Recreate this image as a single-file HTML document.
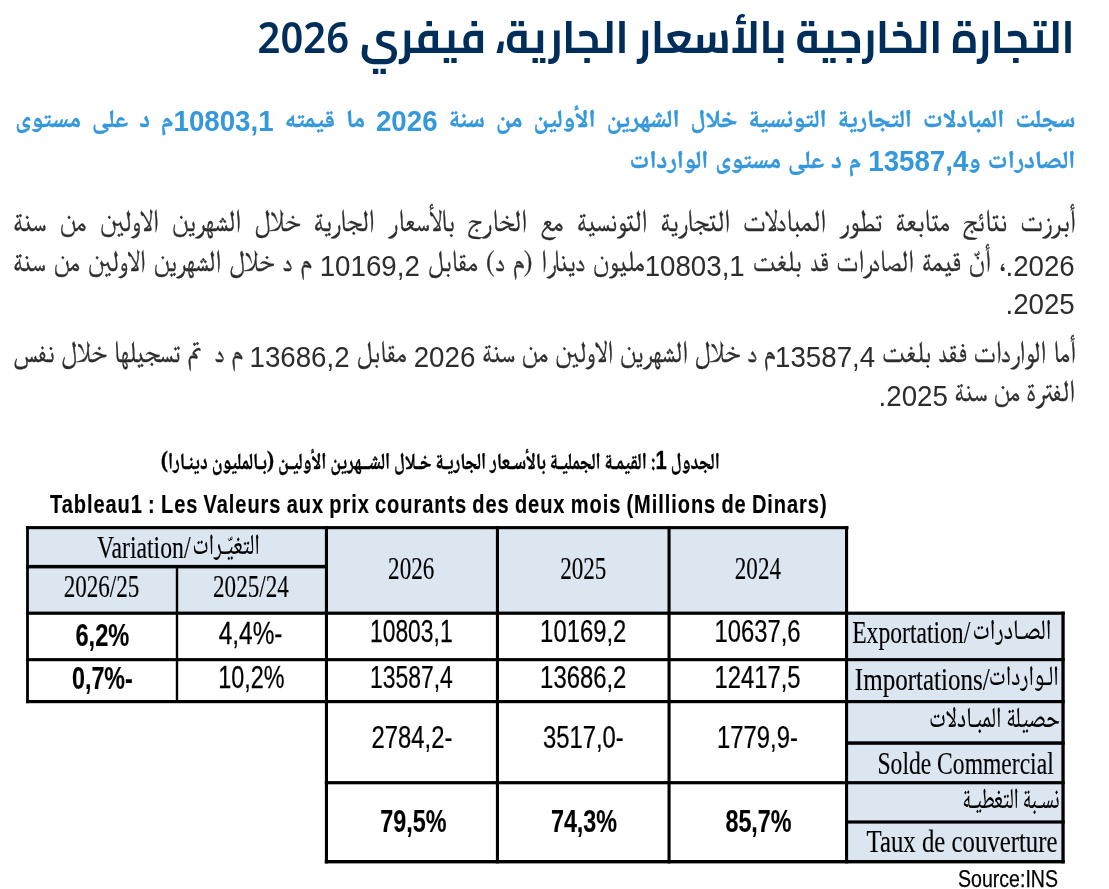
<!DOCTYPE html>
<html lang="ar" dir="ltr">
<head>
<meta charset="utf-8">
<title>التجارة الخارجية بالأسعار الجارية، فيفري 2026</title>
<style>
html,body{margin:0;padding:0;background:#fff}
body{width:1109px;height:889px;overflow:hidden;position:relative;font-family:"Liberation Sans","DejaVu Sans",sans-serif}
.ln{position:absolute;margin:0;white-space:nowrap;direction:rtl;unicode-bidi:isolate;height:60px;line-height:60px}
.j{text-align:justify;text-align-last:justify;white-space:normal;overflow:hidden}
.r{text-align:right}
h1.ln{font-family:"Cairo","DejaVu Sans",sans-serif;font-weight:700;font-size:45px;color:#002e5b;right:34.5px;top:6.5px;transform:scaleX(0.9246);transform-origin:100% 50%}
h1 .n{margin-right:2.2px;font-family:"Noto Sans","Open Sans","Liberation Sans","DejaVu Sans",sans-serif;font-size:43.2px;font-weight:600}
p.lead{-webkit-text-stroke:0.4px #3498db;font-family:"Noto Naskh Arabic","FreeSerif","DejaVu Sans",sans-serif;font-weight:700;font-size:24.8px;color:#3498db;left:15.2px;width:1060.2px;word-spacing:0px}
p.lead{transform:scaleY(1.0);transform-origin:0 38px}
p.lead .n{display:inline-block;line-height:1;transform:scaleY(1.055);transform-origin:50% 84.65%;position:relative;top:3.5px;-webkit-text-stroke:0;font-family:"Liberation Sans","DejaVu Sans",sans-serif;font-size:27.7px}
.body{-webkit-text-stroke:0.3px #2d2d2d;font-family:"FreeSerif","Noto Naskh Arabic","DejaVu Sans",sans-serif;font-size:26.6px;color:#2d2d2d;left:13.2px;width:1061.6px;word-spacing:0px}
.body{transform:scaleY(1.15);transform-origin:0 38px}
.body .n{display:inline-block;line-height:1;transform:scaleY(0.9174);transform-origin:50% 84.65%;-webkit-text-stroke:0;position:relative;top:4.3px;font-family:"Liberation Sans","DejaVu Sans",sans-serif;font-size:27.7px}
.tb{position:absolute;left:0;top:0}
</style>
</head>
<body>
<h1 class="ln" style="--w:883.4">التجارة الخارجية بالأسعار الجارية، فيفري <span class="n">2026</span></h1>
<p class="ln lead j" style="--w:976.1;top:92.0px">سجلت المبادلات التجارية التونسية خلال الشهرين الأولين من سنة <span class="n">2026</span> ما قيمته <span class="n">10803,1</span>م د على مستوى</p>
<p class="ln lead r" style="--w:445.8;top:132.5px;word-spacing:1.5px">الصادرات و<span class="n">13587,4</span> م د على مستوى الواردات</p>
<p class="ln body j" style="--w:958.6;top:193.3px">أبرزت نتائج متابعة تطور المبادلات التجارية التونسية مع الخارج بالأسعار الجارية خلال الشهرين الاولين من سنة</p>
<p class="ln body j" style="--w:1029.9;top:232.5px;font-size:26px"><span class="n">2026.</span>، أنّ قيمة الصادرات قد بلغت <span class="n">10803,1</span>مليون دينارا (م د) مقابل <span class="n">10169,2</span> م د خلال الشهرين الاولين من سنة</p>
<p class="ln body r" style="--w:69.3;top:271.3px"><span class="n">2025.</span></p>
<p class="ln body j" style="--w:1051.9;top:323.8px;font-size:26.2px">أما الواردات فقد بلغت <span class="n">13587,4</span>م د خلال الشهرين الاولين من سنة <span class="n">2026</span> مقابل <span class="n">13686,2</span> م د&nbsp; تم تسجيلها خلال نفس</p>
<p class="ln body r" style="--w:196.2;top:362.8px;font-size:26.3px">الفترة من سنة <span class="n">2025.</span></p>
<svg class="tb" width="1109" height="889" viewBox="0 0 1109 889" role="img" aria-label="Tableau 1">
<rect x="27.5" y="527.5" width="819" height="85.5" fill="#dce6f1"/>
<rect x="846.5" y="613" width="216.5" height="248.5" fill="#dce6f1"/>
<g fill="#000">
<rect x="26.1" y="526.1" width="822.4" height="3.1"/>
<rect x="26.1" y="564.9" width="301.8" height="3.5"/>
<rect x="26.1" y="611.6" width="1038.6" height="3.2"/>
<rect x="26.1" y="658.1" width="1038.6" height="3.1"/>
<rect x="26.1" y="700.0" width="1038.6" height="3.2"/>
<rect x="846" y="741.3" width="218.7" height="3.5"/>
<rect x="324.8" y="781.1" width="739.9" height="3.2"/>
<rect x="846" y="820.4" width="218.7" height="3.2"/>
<rect x="324.8" y="860.0" width="739.9" height="3.4"/>
<rect x="26.1" y="526.1" width="2.8" height="177.1"/>
<rect x="175.8" y="566" width="2.4" height="137"/>
<rect x="324.9" y="526.1" width="3.1" height="337.3"/>
<rect x="495.9" y="526.1" width="3.1" height="337.3"/>
<rect x="667.5" y="526.1" width="3.1" height="337.3"/>
<rect x="845.0" y="526.1" width="3.1" height="337.3"/>
<rect x="1061.4" y="611.6" width="3.3" height="251.8"/>
</g>
<text transform="translate(719.8,469.2) scale(1,1)" font-family="'Noto Naskh Arabic','DejaVu Sans',sans-serif" font-size="23" font-weight="700" text-anchor="end" fill="#000" stroke="#000" stroke-width="0.3" textLength="559" lengthAdjust="spacingAndGlyphs">الجدول <tspan font-family="'Liberation Sans',sans-serif" font-size="26">1</tspan>: القيمـة الجمليـة بالأسـعار الجاريـة خـلال الشــهرين الأوليـن (بـالمليون دينـارا)</text>
<text transform="translate(50.0,513.2) scale(0.78,1)" font-family="'Liberation Sans','DejaVu Sans',sans-serif" font-size="25.7" font-weight="700" text-anchor="start" fill="#000" stroke="#000" stroke-width="0.15" style="word-spacing:-1.6px" textLength="995.6" lengthAdjust="spacing">Tableau1 : Les Valeurs aux prix courants des deux mois (Millions de Dinars)</text>
<text transform="translate(97.0,557.6) scale(1,1)" font-family="'Liberation Serif','DejaVu Serif',serif" font-size="32" font-weight="400" text-anchor="start" fill="#000" stroke="#000" stroke-width="0.15" textLength="93.5" lengthAdjust="spacingAndGlyphs">Variation/</text>
<text transform="translate(259.6,554.1) scale(1,1)" font-family="'Noto Naskh Arabic','DejaVu Sans',sans-serif" font-size="29" font-weight="500" text-anchor="end" fill="#000" textLength="67" lengthAdjust="spacingAndGlyphs">التغيّـرات</text>
<text transform="translate(101.5,596.7) scale(0.722,1)" font-family="'Liberation Serif','DejaVu Serif',serif" font-size="32" font-weight="400" text-anchor="middle" fill="#000" stroke="#000" stroke-width="0.15">2026/25</text>
<text transform="translate(250.9,596.7) scale(0.722,1)" font-family="'Liberation Serif','DejaVu Serif',serif" font-size="32" font-weight="400" text-anchor="middle" fill="#000" stroke="#000" stroke-width="0.15">2025/24</text>
<text transform="translate(411.2,579.2) scale(0.722,1)" font-family="'Liberation Serif','DejaVu Serif',serif" font-size="32" font-weight="400" text-anchor="middle" fill="#000" stroke="#000" stroke-width="0.15">2026</text>
<text transform="translate(583.3,579.2) scale(0.722,1)" font-family="'Liberation Serif','DejaVu Serif',serif" font-size="32" font-weight="400" text-anchor="middle" fill="#000" stroke="#000" stroke-width="0.15">2025</text>
<text transform="translate(757.9,579.2) scale(0.722,1)" font-family="'Liberation Serif','DejaVu Serif',serif" font-size="32" font-weight="400" text-anchor="middle" fill="#000" stroke="#000" stroke-width="0.15">2024</text>
<text transform="translate(102.4,645.5) scale(0.75,1)" font-family="'Liberation Sans','DejaVu Sans',sans-serif" font-size="31.5" font-weight="700" text-anchor="middle" fill="#000" stroke="#000" stroke-width="0.15">6,2%</text>
<text transform="translate(250.6,643.9) scale(0.793,1)" font-family="'Liberation Sans','DejaVu Sans',sans-serif" font-size="30.8" font-weight="400" text-anchor="middle" fill="#000" stroke="#000" stroke-width="0.25">4,4%-</text>
<text transform="translate(411.3,641.5) scale(0.742,1)" font-family="'Liberation Sans','DejaVu Sans',sans-serif" font-size="30.8" font-weight="400" text-anchor="middle" fill="#000" stroke="#000" stroke-width="0.25">10803,1</text>
<text transform="translate(583.2,641.5) scale(0.774,1)" font-family="'Liberation Sans','DejaVu Sans',sans-serif" font-size="30.8" font-weight="400" text-anchor="middle" fill="#000" stroke="#000" stroke-width="0.25">10169,2</text>
<text transform="translate(757.5,641.5) scale(0.774,1)" font-family="'Liberation Sans','DejaVu Sans',sans-serif" font-size="30.8" font-weight="400" text-anchor="middle" fill="#000" stroke="#000" stroke-width="0.25">10637,6</text>
<text transform="translate(102.4,689.1) scale(0.739,1)" font-family="'Liberation Sans','DejaVu Sans',sans-serif" font-size="31.5" font-weight="700" text-anchor="middle" fill="#000" stroke="#000" stroke-width="0.15">0,7%-</text>
<text transform="translate(251.4,687.8) scale(0.759,1)" font-family="'Liberation Sans','DejaVu Sans',sans-serif" font-size="30.8" font-weight="400" text-anchor="middle" fill="#000" stroke="#000" stroke-width="0.25">10,2%</text>
<text transform="translate(411.4,687.8) scale(0.745,1)" font-family="'Liberation Sans','DejaVu Sans',sans-serif" font-size="30.8" font-weight="400" text-anchor="middle" fill="#000" stroke="#000" stroke-width="0.25">13587,4</text>
<text transform="translate(583.2,687.8) scale(0.774,1)" font-family="'Liberation Sans','DejaVu Sans',sans-serif" font-size="30.8" font-weight="400" text-anchor="middle" fill="#000" stroke="#000" stroke-width="0.25">13686,2</text>
<text transform="translate(757.5,687.8) scale(0.774,1)" font-family="'Liberation Sans','DejaVu Sans',sans-serif" font-size="30.8" font-weight="400" text-anchor="middle" fill="#000" stroke="#000" stroke-width="0.25">12417,5</text>
<text transform="translate(412.0,748.1) scale(0.774,1)" font-family="'Liberation Sans','DejaVu Sans',sans-serif" font-size="30.8" font-weight="400" text-anchor="middle" fill="#000" stroke="#000" stroke-width="0.25">2784,2-</text>
<text transform="translate(583.3,748.1) scale(0.774,1)" font-family="'Liberation Sans','DejaVu Sans',sans-serif" font-size="30.8" font-weight="400" text-anchor="middle" fill="#000" stroke="#000" stroke-width="0.25">3517,0-</text>
<text transform="translate(757.5,748.1) scale(0.774,1)" font-family="'Liberation Sans','DejaVu Sans',sans-serif" font-size="30.8" font-weight="400" text-anchor="middle" fill="#000" stroke="#000" stroke-width="0.25">1779,9-</text>
<text transform="translate(413.4,831.6) scale(0.742,1)" font-family="'Liberation Sans','DejaVu Sans',sans-serif" font-size="31.5" font-weight="700" text-anchor="middle" fill="#000" stroke="#000" stroke-width="0.15">79,5%</text>
<text transform="translate(584.0,831.6) scale(0.742,1)" font-family="'Liberation Sans','DejaVu Sans',sans-serif" font-size="31.5" font-weight="700" text-anchor="middle" fill="#000" stroke="#000" stroke-width="0.15">74,3%</text>
<text transform="translate(758.5,831.6) scale(0.742,1)" font-family="'Liberation Sans','DejaVu Sans',sans-serif" font-size="31.5" font-weight="700" text-anchor="middle" fill="#000" stroke="#000" stroke-width="0.15">85,7%</text>
<text transform="translate(852.2,642.9) scale(1,1)" font-family="'Liberation Serif','DejaVu Serif',serif" font-size="30.5" font-weight="400" text-anchor="start" fill="#000" stroke="#000" stroke-width="0.15" textLength="118.0" lengthAdjust="spacingAndGlyphs">Exportation/</text>
<text transform="translate(1051.4,639.4) scale(1,1)" font-family="'Noto Naskh Arabic','DejaVu Sans',sans-serif" font-size="28.5" font-weight="500" text-anchor="end" fill="#000" textLength="79" lengthAdjust="spacingAndGlyphs">الصـادرات</text>
<text transform="translate(854.8,689.7) scale(1,1)" font-family="'Liberation Serif','DejaVu Serif',serif" font-size="31.4" font-weight="400" text-anchor="start" fill="#000" stroke="#000" stroke-width="0.15" textLength="135.0" lengthAdjust="spacingAndGlyphs">Importations/</text>
<text transform="translate(1058.8,685.2) scale(1,1)" font-family="'Noto Naskh Arabic','DejaVu Sans',sans-serif" font-size="28" font-weight="500" text-anchor="end" fill="#000" textLength="70" lengthAdjust="spacingAndGlyphs">الـواردات</text>
<text transform="translate(1060,727.4) scale(1,1)" font-family="'Noto Naskh Arabic','DejaVu Sans',sans-serif" font-size="29" font-weight="500" text-anchor="end" fill="#000" textLength="131" lengthAdjust="spacingAndGlyphs">حصيلة المبـادلات</text>
<text transform="translate(877.5,773.5) scale(1,1)" font-family="'Liberation Serif','DejaVu Serif',serif" font-size="30.5" font-weight="400" text-anchor="start" fill="#000" stroke="#000" stroke-width="0.15" textLength="176.2" lengthAdjust="spacingAndGlyphs">Solde Commercial</text>
<text transform="translate(1059.4,807.8) scale(1,1)" font-family="'Noto Naskh Arabic','DejaVu Sans',sans-serif" font-size="29" font-weight="500" text-anchor="end" fill="#000" textLength="97" lengthAdjust="spacingAndGlyphs">نسـبة التغطيـة</text>
<text transform="translate(866.6,851.9) scale(1,1)" font-family="'Liberation Serif','DejaVu Serif',serif" font-size="30.5" font-weight="400" text-anchor="start" fill="#000" stroke="#000" stroke-width="0.15" textLength="190.8" lengthAdjust="spacingAndGlyphs">Taux de couverture</text>
<text transform="translate(958.0,886.8) scale(1,1)" font-family="'Liberation Sans','DejaVu Sans',sans-serif" font-size="23.6" font-weight="400" text-anchor="start" fill="#000" stroke="#000" stroke-width="0.25" textLength="100" lengthAdjust="spacingAndGlyphs">Source:INS</text>
</svg>
<script>
(function(){
  /* safety net: when a preferred font is missing, rescale each text line back to its designed width */
  function nat(e){
    var c=e.cloneNode(true);
    c.style.cssText+=';width:auto;white-space:nowrap;text-align:right;text-align-last:auto;left:auto;right:0;transform:none;visibility:hidden';
    document.body.appendChild(c);
    var w=c.getBoundingClientRect().width; c.remove(); return w;
  }
  var lines=document.querySelectorAll('.ln');
  for(var i=0;i<lines.length;i++){
    var e=lines[i], w0=parseFloat(e.style.getPropertyValue('--w'));
    if(!w0) continue;
    for(var k=0;k<5;k++){
      var w=nat(e);
      if(!w||Math.abs(w-w0)/w0<0.012) break;
      var fs=parseFloat(getComputedStyle(e).fontSize);
      e.style.fontSize=(fs*w0/w).toFixed(2)+'px';
    }
  }
})();
</script>
</body>
</html>
